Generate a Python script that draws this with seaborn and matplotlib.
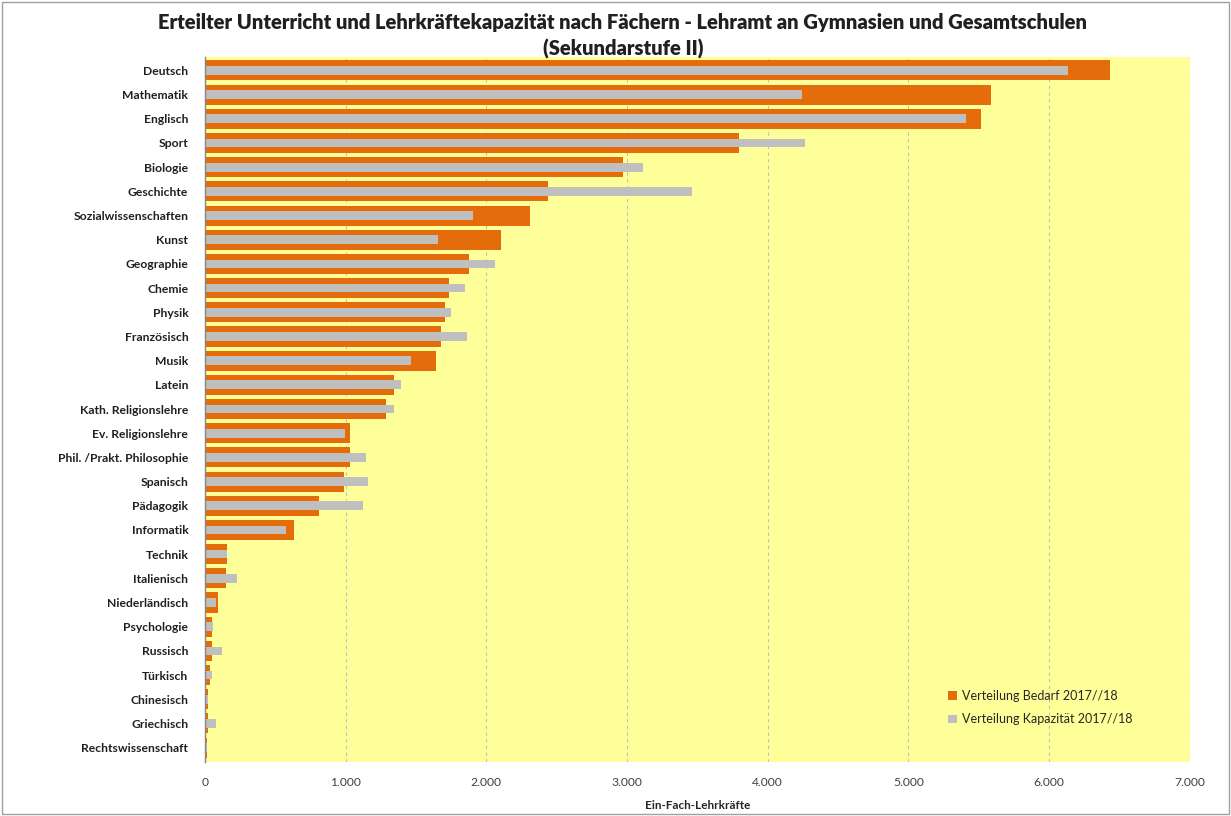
import matplotlib
matplotlib.use("Agg")
import matplotlib.pyplot as plt
import seaborn as sns
import pandas as pd
from matplotlib.patches import Patch, Rectangle
from matplotlib.ticker import FuncFormatter, FixedLocator

categories = ["Deutsch", "Mathematik", "Englisch", "Sport", "Biologie", "Geschichte",
              "Sozialwissenschaften", "Kunst", "Geographie", "Chemie", "Physik",
              "Französisch", "Musik", "Latein", "Kath. Religionslehre", "Ev. Religionslehre",
              "Phil. /Prakt. Philosophie", "Spanisch", "Pädagogik", "Informatik", "Technik",
              "Italienisch", "Niederländisch", "Psychologie", "Russisch", "Türkisch",
              "Chinesisch", "Griechisch", "Rechtswissenschaft"]
bedarf = [6432, 5586, 5515, 3795, 2971, 2438, 2310, 2104, 1876, 1734, 1706, 1677, 1642,
          1343, 1284, 1031, 1031, 988, 812, 633, 154, 149, 92, 47, 47, 33, 19, 19, 14]
kapazitaet = [6134, 4243, 5409, 4264, 3113, 3461, 1905, 1656, 2061, 1848, 1748, 1862, 1464,
              1393, 1343, 995, 1144, 1158, 1123, 578, 154, 225, 78, 54, 118, 47, 24, 76, 12]
series_labels = ["Verteilung Bedarf 2017//18", "Verteilung Kapazität 2017//18"]
x_ticks = [0, 1000, 2000, 3000, 4000, 5000, 6000, 7000]

df = pd.DataFrame({"Fach": categories, "Bedarf": bedarf, "Kapazitaet": kapazitaet})

sns.set_style("white")
plt.rcParams["font.family"] = ["Lato", "DejaVu Sans"]

ORANGE = "#E46C0A"
GREY = "#BFBFBF"
YELLOW = "#FFFF99"

fig = plt.figure(figsize=(12.31, 8.16), dpi=100)
ax = fig.add_axes([0.1665, 0.066, 0.80, 0.864])
ax.set_facecolor(YELLOW)

sns.barplot(data=df, x="Bedarf", y="Fach", orient="h", color=ORANGE, width=0.83,
            saturation=1, ax=ax, zorder=2, linewidth=0, edgecolor="none")
sns.barplot(data=df, x="Kapazitaet", y="Fach", orient="h", color=GREY, width=0.36,
            saturation=1, ax=ax, zorder=3, linewidth=0, edgecolor="none")

ax.set_xlim(0, 7000)
ax.set_ylim(len(categories) - 0.4, -0.55)
ax.xaxis.set_major_locator(FixedLocator(x_ticks))
ax.xaxis.set_major_formatter(FuncFormatter(lambda v, p: f"{int(v):,}".replace(",", ".")))
ax.grid(axis="x", color="#BFBFBF", linestyle=(0, (3, 3)), linewidth=0.8, zorder=1)
ax.set_axisbelow(True)

for s in ["top", "right", "bottom"]:
    ax.spines[s].set_visible(False)
ax.spines["left"].set_color("#868686")
ax.spines["left"].set_linewidth(1.0)
ax.spines["left"].set_zorder(5)

ax.tick_params(axis="y", which="major", length=0, pad=12, labelsize=8.7)
ax.set_yticks([i + 0.5 for i in range(len(categories) - 1)], minor=True)
ax.tick_params(axis="y", which="minor", length=5, color="#868686", direction="out")
ax.tick_params(axis="x", which="major", length=5, color="#868686", labelsize=8.7,
               labelcolor="#404040", pad=6)
for lab in ax.get_yticklabels():
    lab.set_fontweight("bold")
    lab.set_color("#202020")

ax.set_ylabel("")
ax.set_xlabel("Ein-Fach-Lehrkräfte", fontsize=8.5, fontweight="bold", labelpad=8)

handles = [Patch(facecolor=ORANGE, edgecolor="none"), Patch(facecolor=GREY, edgecolor="none")]
ax.legend(handles, series_labels, loc="upper left", bbox_to_anchor=(0.743, 0.118),
          frameon=False, fontsize=9, handlelength=0.7, handleheight=0.7,
          handletextpad=0.4, labelspacing=0.9)

fig.text(0.506, 0.972, "Erteilter Unterricht und Lehrkräftekapazität nach Fächern - Lehramt an Gymnasien und Gesamtschulen",
         ha="center", va="center", fontsize=14.5, fontweight="heavy", color="#202020")
fig.text(0.506, 0.940, "(Sekundarstufe II)", ha="center", va="center",
         fontsize=14.5, fontweight="heavy", color="#202020")

fig.patches.append(Rectangle((0.002, 0.002), 0.996, 0.996, transform=fig.transFigure,
                             fill=False, edgecolor="#A0A0A0", linewidth=1.0))

fig.savefig("out.png", dpi=100, facecolor="white")
